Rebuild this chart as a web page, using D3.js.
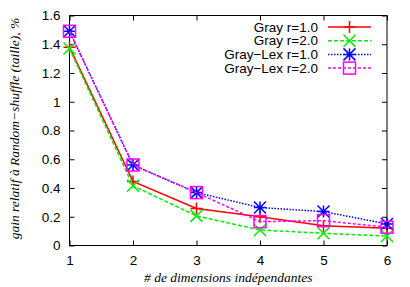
<!DOCTYPE html>
<html lang="fr">
  <head>
    <meta charset="utf-8" />
    <title>Gain relatif</title>
    <script src="https://d3js.org/d3.v7.min.js"></script>
    <style>
      body { margin: 0; background: #fff; }
      svg { display: block; }
      .tick text, .legend text { font-family: "Liberation Sans", Arial, sans-serif; font-size: 13.5px; fill: #000; }
      .title { font-family: "Liberation Serif", "Times New Roman", serif; font-style: italic; font-size: 13.5px; }
    </style>
  </head>
  <body>
    <svg id="chart" width="410" height="287"></svg>
    <script>
      // data
      const dims = [1, 2, 3, 4, 5, 6];
      const grayR1 = [1.38, 0.445, 0.257, 0.20, 0.138, 0.12];
      const grayR2 = [1.37, 0.415, 0.206, 0.108, 0.085, 0.066];
      const lexR1 = [1.49, 0.56, 0.368, 0.264, 0.236, 0.15];
      const lexR2 = [1.49, 0.56, 0.368, 0.166, 0.173, 0.127];
      const yTicks = [0, 0.2, 0.4, 0.6, 0.8, 1, 1.2, 1.4, 1.6];
      const seriesNames = ["Gray r=1.0", "Gray r=2.0", "Gray\u2212Lex r=1.0", "Gray\u2212Lex r=2.0"];

      const series = [
        { name: seriesNames[0], values: grayR1, color: "#ff0000", dash: null, marker: "plus" },
        { name: seriesNames[1], values: grayR2, color: "#00ee00", dash: "4,2", marker: "cross" },
        { name: seriesNames[2], values: lexR1, color: "#0000ff", dash: "1.5,1.5", marker: "star" },
        { name: seriesNames[3], values: lexR2, color: "#ff00ff", dash: "3,2", marker: "box" }
      ];

      const svg = d3.select("#chart");
      const mLeft = 69.5, mRight = 387, mTop = 15.5, mBottom = 245.5;

      const x = d3.scaleLinear().domain([1, 6]).range([mLeft, mRight]);
      const y = d3.scaleLinear().domain([0, 1.6]).range([mBottom, mTop]);

      // axes with inward ticks (mirrored on top and right)
      svg.append("g")
        .attr("transform", `translate(0,${mBottom})`)
        .call(d3.axisBottom(x).tickValues(dims).tickSizeInner(-5).tickSizeOuter(0).tickPadding(10).tickFormat(d3.format("d")))
        .call(g => g.select(".domain").remove());
      svg.append("g")
        .attr("transform", `translate(0,${mTop})`)
        .call(d3.axisTop(x).tickValues(dims).tickSizeInner(-5).tickSizeOuter(0).tickFormat(""))
        .call(g => g.select(".domain").remove());
      svg.append("g")
        .attr("transform", `translate(${mLeft},0)`)
        .call(d3.axisLeft(y).tickValues(yTicks).tickSizeInner(-5).tickSizeOuter(0).tickPadding(9).tickFormat(d => String(+d.toFixed(1))))
        .call(g => g.select(".domain").remove());
      svg.append("g")
        .attr("transform", `translate(${mRight},0)`)
        .call(d3.axisRight(y).tickValues(yTicks).tickSizeInner(-5).tickSizeOuter(0).tickFormat(""))
        .call(g => g.select(".domain").remove());
      svg.selectAll(".tick line").attr("stroke", "#000");
      svg.selectAll(".tick text").attr("fill", "#000");

      svg.append("rect")
        .attr("x", mLeft).attr("y", mTop)
        .attr("width", mRight - mLeft).attr("height", mBottom - mTop)
        .attr("fill", "none").attr("stroke", "#000").attr("stroke-width", 1);

      // markers
      function drawMarker(g, type, cx, cy, color) {
        const s = 6;
        if (type === "plus") {
          g.append("path").attr("d", `M${cx - s},${cy}H${cx + s}M${cx},${cy - s}V${cy + s}`);
        } else if (type === "cross") {
          g.append("path").attr("d", `M${cx - s},${cy - s}L${cx + s},${cy + s}M${cx - s},${cy + s}L${cx + s},${cy - s}`);
        } else if (type === "star") {
          g.append("path").attr("d", `M${cx - s},${cy}H${cx + s}M${cx},${cy - s}V${cy + s}M${cx - s},${cy - s}L${cx + s},${cy + s}M${cx - s},${cy + s}L${cx + s},${cy - s}`);
        } else {
          g.append("rect").attr("x", cx - s).attr("y", cy - s).attr("width", 2 * s).attr("height", 2 * s).attr("fill", "none");
        }
        g.selectAll("path, rect").attr("stroke", color).attr("stroke-width", 1.5);
      }

      const line = d3.line().x((d, i) => x(dims[i])).y(d => y(d));

      series.forEach(s => {
        svg.append("path")
          .datum(s.values)
          .attr("d", line)
          .attr("fill", "none")
          .attr("stroke", s.color)
          .attr("stroke-width", 1.5)
          .attr("stroke-dasharray", s.dash);
        s.values.forEach((v, i) => {
          drawMarker(svg.append("g"), s.marker, x(dims[i]), y(v), s.color);
        });
      });

      // legend
      const legend = svg.append("g").attr("class", "legend");
      series.forEach((s, i) => {
        const ly = 27 + i * 13.7;
        legend.append("text")
          .attr("x", 318).attr("y", ly).attr("dy", "0.35em")
          .attr("text-anchor", "end").text(s.name);
        legend.append("line")
          .attr("x1", 328).attr("x2", 371).attr("y1", ly).attr("y2", ly)
          .attr("stroke", s.color).attr("stroke-width", 1.5)
          .attr("stroke-dasharray", s.dash);
        drawMarker(legend.append("g"), s.marker, 349.5, ly, s.color);
      });

      // axis titles
      svg.append("text")
        .attr("class", "title")
        .attr("x", (mLeft + mRight) / 2).attr("y", 282)
        .attr("text-anchor", "middle")
        .text("# de dimensions indépendantes");
      svg.append("text")
        .attr("class", "title")
        .attr("transform", `translate(19,${(mTop + mBottom) / 2 - 2}) rotate(-90)`)
        .attr("text-anchor", "middle")
        .text("gain relatif à Random\u2212shuffle (taille), %");
    </script>
  </body>
</html>
